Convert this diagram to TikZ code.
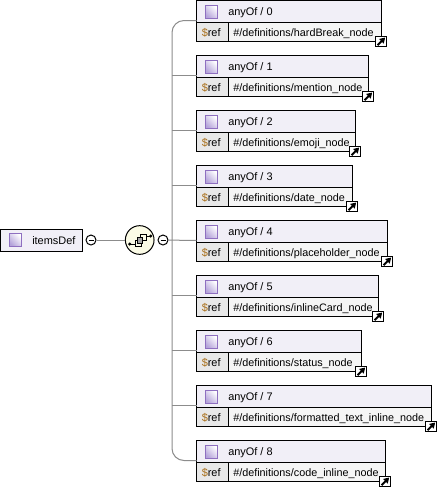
\documentclass[tikz,border=0pt]{standalone}
\usepackage{fontspec}
\setmainfont{Liberation Sans}
\usetikzlibrary{calc,arrows.meta}
\definecolor{hdrfill}{HTML}{F1EFF7}
\definecolor{valfill}{HTML}{F5F5F5}
\definecolor{reffill}{HTML}{E8E8E8}
\definecolor{conn}{HTML}{8C8C8C}
\definecolor{iconedge}{HTML}{8E6FC0}
\definecolor{iconlo}{HTML}{B4A3DA}
\definecolor{choicefill}{HTML}{FBFBE6}
\definecolor{dollar}{HTML}{A86E18}
\tikzset{
  x=0.75pt,y=-0.75pt,
  cell/.style={draw=black,line width=0.75pt,inner sep=0,outer sep=0,anchor=north west},
  hdr/.style={cell,fill=hdrfill},
  refcell/.style={cell,fill=reffill,minimum width=24pt,minimum height=14.25pt},
  valcell/.style={cell,fill=valfill,minimum height=14.25pt},
  icon/.style={draw=iconedge,line width=0.75pt,inner sep=0,minimum size=9.5pt,left color=white,right color=iconlo,shading angle=-45},
  conline/.style={draw=conn,line width=0.75pt},
  toggle/.style={circle,draw=black,fill=white,line width=0.75pt,inner sep=0,minimum size=7.5pt},
  jump/.style={draw=black,fill=white,line width=0.9pt,inner sep=0,minimum size=8pt},
  jumparrow/.style={-{Triangle[length=4pt,width=4.6pt]},line width=1.4pt},
  lab/.style={inner sep=0,anchor=base west,font=\fontsize{8.2pt}{9pt}\selectfont},
  vallab/.style={inner sep=0,anchor=base west,font=\fontsize{8.1pt}{9pt}\selectfont},
  glyph/.style={line width=.75pt},
}
\begin{document}
\begin{tikzpicture}
\useasboundingbox (0,0) rectangle (437,487);
\fill[white] (0,0) rectangle (437,487);
% root
\node[hdr,minimum width=61.5pt,minimum height=16.5pt] (root) at (0.5,229.5) {};
\node[icon] (rooticon) at (15.5,240) {};
\node[lab] (roottext) at (32,244) {itemsDef};
\node[toggle] (rt) at (91,240) {};
\node[circle,draw=black,fill=choicefill,line width=0.75pt,inner sep=0,minimum size=21.5pt] (choice) at (139.7,240) {};
\node[toggle] (ct) at (163,240) {};
\draw[conline] (rt) -- (choice);
\coordinate (trunk) at (172,240);
% boxes
\foreach \k/\rx/\nm in {0/381/hardBreak\_node,1/368/mention\_node,2/355/emoji\_node,3/352/date\_node,4/387/placeholder\_node,5/378/inlineCard\_node,6/361/status\_node,7/431/formatted\_text\_inline\_node,8/385/code\_inline\_node}{
  \pgfmathsetmacro\tp{0.5+55*\k}
  \pgfmathsetmacro\wid{(\rx+0.5-196.5)*0.75}
  \pgfmathsetmacro\vwid{(\rx+0.5-228.5)*0.75}
  \node[hdr,minimum width=\wid pt,minimum height=16.5pt] (h\k) at (196.5,\tp) {};
  \node[icon] (ic\k) at (211.5,\tp+11.5) {};
  \node[lab] (at\k) at (228,\tp+14.7) {anyOf / \k};
  \node[refcell] (r\k) at (196.5,\tp+22) {};
  \node[lab] (rt\k) at (201.5,\tp+35.7) {\textcolor{dollar}{\$}ref};
  \node[valcell,minimum width=\vwid pt] (v\k) at (228.5,\tp+22) {};
  \node[vallab] (vt\k) at (233,\tp+35.7) {\#/definitions/\nm};
  \node[jump] (j\k) at (\rx+0.2,\tp+41) {};
  \draw[jumparrow] ($(j\k.center)+(-3.6,3.6)$) -- ($(j\k.center)+(4,-4)$);
  \coordinate (b\k) at ($(h\k.south west)+(0,-2)$);
}
\draw[conline] (ct) -- (b4);
\foreach \k in {1,2,3,5,6,7}{
  \draw[conline] (b\k) -- (b\k -| trunk);
}
\draw[conline,rounded corners=9pt] (b0) -| (trunk) |- (b8);
% choice glyph
\begin{scope}[shift={(choice.center)}]
\draw[glyph] (-10,4) -- (-4,4) (7,-4) -- (11,-4);
\fill (-10,4) circle (1.7) (11,-4) circle (1.7);
\draw[glyph,fill=choicefill] (-4,0) rectangle (2,6);
\draw[glyph,fill=choicefill] (1,-6) rectangle (7,0);
\draw[glyph,fill=gray!70] (-2,-3) rectangle (3,3);
\end{scope}
\draw[line width=.75pt] (rt.center)+(-2.5,0) -- +(2.5,0);
\draw[line width=.75pt] (ct.center)+(-2.5,0) -- +(2.5,0);
\end{tikzpicture}
\end{document}
